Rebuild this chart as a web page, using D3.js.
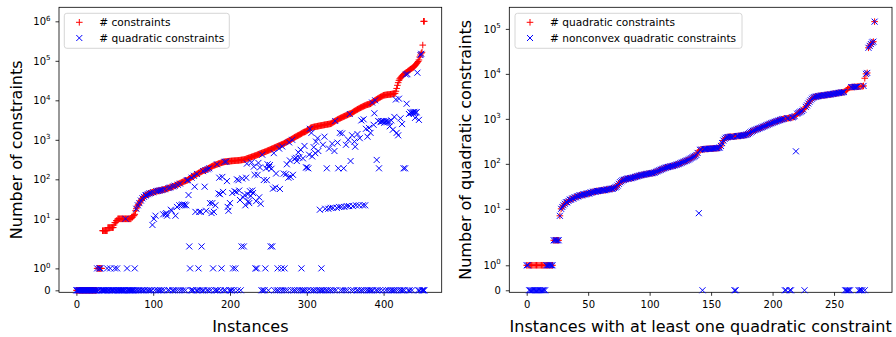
<!DOCTYPE html>
<html>
<head>
<meta charset="utf-8">
<script src="https://cdn.jsdelivr.net/npm/d3@7"></script>
<style>
  body { margin: 0; background: #fff; }
  svg text { font-family: "DejaVu Sans", sans-serif; fill: #000; }
</style>
</head>
<body>
<svg id="chart" width="896" height="337"></svg>
<script>
// # constraints per instance (sorted), left panel
const leftConstraints = [
  0,0,0,0,0,0,0,0,0,0,
  0,0,0,0,0,0,0,0,0,0,
  0,0,0,0,0,0,0,1,1,1,
  1,1,1,1,5,5,5,5,5,5,
  5,6,6,6,6,6,6,6,6,7,
  8,8,9,9,10,10,10,10,10,10,
  10,10,10,10,10,10,10,10,10,10,
  10,10,11,11,12,12,13,16,18,20,
  22,23,25,27,29,31,33,35,36,38,
  39,40,41,42,43,44,45,45,46,47,
  47,48,48,49,50,50,51,51,52,52,
  53,53,54,55,55,56,57,57,58,59,
  60,61,62,63,64,65,66,67,69,70,
  72,73,75,76,78,80,81,83,85,86,
  88,90,91,93,94,96,100,103,106,110,
  113,116,120,123,126,130,133,137,140,144,
  147,151,154,158,161,165,168,170,172,175,
  180,185,190,195,200,205,210,215,220,224,
  228,232,236,240,244,248,252,256,260,264,
  268,272,275,278,280,281,283,285,286,288,
  289,290,292,293,294,295,296,297,298,299,
  300,301,303,305,307,309,311,313,315,317,
  320,330,335,340,345,350,356,362,368,374,
  380,386,392,398,405,412,420,428,436,444,
  452,460,468,476,484,492,500,510,520,530,
  540,550,560,572,584,596,608,620,632,645,
  658,671,684,698,712,726,740,755,770,785,
  800,820,850,870,890,910,930,950,975,1000,
  1030,1060,1090,1120,1150,1180,1210,1240,1270,1300,
  1330,1360,1400,1440,1480,1520,1560,1580,1600,1650,
  1700,1750,1800,1850,1900,2000,2030,2060,2090,2110,
  2130,2150,2170,2190,2210,2230,2250,2270,2290,2310,
  2330,2350,2370,2390,2410,2430,2450,2470,2490,2510,
  2530,2550,2600,2680,2760,2840,2920,3000,3080,3160,
  3240,3320,3400,3480,3560,3640,3720,3800,3880,3960,
  4040,4120,4200,4300,4400,4500,4550,4600,4700,4850,
  5000,5150,5300,5450,5600,5750,5900,6050,6200,6350,
  6500,6650,6800,6950,7100,7250,7400,7550,7700,7800,
  7900,8000,8100,8200,8500,8800,9100,9400,9700,10000,
  10300,10600,10900,11200,11500,11800,12100,12400,12700,13000,
  13400,13500,13600,13700,13800,13900,14000,14000,14100,14200,
  14300,14400,14500,14600,14800,15000,17000,20000,24000,28000,
  32000,35000,37000,39000,41000,43000,45000,47000,48000,50000,
  51000,53000,55000,57000,59000,61000,63000,65000,67000,69000,
  72000,76000,80000,85000,90000,96000,105000,125000,140000,156000,
  165000,250000,1000000,1000000
];

// # quadratic constraints per instance, left panel
const leftQuadratic = [
  0,0,0,0,0,0,0,0,0,0,
  0,0,0,0,0,0,0,0,0,0,
  0,0,0,0,0,0,0,1,0,0,
  1,1,0,0,0,0,0,0,0,0,
  1,0,0,0,1,0,0,0,0,0,
  1,0,0,1,0,0,0,0,0,0,
  0,0,0,0,10,0,1,0,0,0,
  0,0,0,0,0,0,1,0,18,0,
  22,0,25,0,29,0,33,0,36,0,
  39,40,0,42,0,44,0,45,0,7,
  47,10,0,12,50,0,51,0,52,0,
  53,0,54,13,0,56,13,14,12,0,
  60,0,62,17,16,0,66,0,69,12,
  0,20,73,0,22,78,0,22,23,0,
  22,23,0,22,94,96,40,2,1,0,
  110,0,0,123,65,15,0,137,0,1,
  15,0,15,2,0,161,0,65,172,16,
  0,180,0,190,25,0,14,25,1,15,
  0,22,0,240,0,44,110,42,0,1,
  115,48,0,278,0,281,90,20,16,0,
  25,0,0,45,1,0,50,1,48,100,
  0,95,52,30,0,2,105,35,2,40,
  22,110,250,42,28,25,50,38,270,52,
  45,210,130,1,28,1,130,260,35,200,
  24,0,420,0,96,0,1,190,95,240,
  0,205,230,2,185,2,58,460,0,62,
  140,0,1,0,600,57,0,1,680,0,
  140,1,0,135,240,0,110,860,300,115,
  0,1000,130,0,330,0,350,290,0,480,
  360,0,560,1,0,340,0,700,0,200,
  200,0,190,420,1900,0,1500,380,0,650,
  0,460,900,0,1100,520,0,17,0,1,
  0,750,0,1200,18,0,190,0,18,600,
  0,19,0,800,19,0,520,3000,0,19,
  850,190,20,1500,0,20,1450,0,190,20,
  0,750,21,0,1000,21,4500,290,0,1300,
  21,0,900,670,22,0,1400,0,22,1100,
  0,3100,0,22,3300,0,22,1900,0,1200,
  0,2000,0,1500,0,8800,0,2400,4700,10000,
  0,310,0,3000,190,0,2800,3000,2900,0,
  3000,2700,2900,0,3000,2800,0,2900,2200,0,
  3100,0,1800,0,3800,0,10500,1500,0,1300,
  11000,0,3500,0,2500,0,190,0,190,45000,
  8200,46000,0,4500,0,5000,4800,0,5000,4700,
  5100,3600,4900,5000,50000,0,3200,0,140000,150000,
  0,0,0,0
];

// # quadratic constraints (sorted), right panel
const rightQuadratic = [
  1,1,1,1,1,1,1,1,1,1,
  1,1,1,1,1,1,1,1,1,1,
  1,1,2,2,2,2,2,7,10,11,
  12,13,14,14,15,16,16,17,17,18,
  18,19,19,20,20,20,21,21,21,22,
  22,22,23,23,24,24,24,25,25,25,
  25,26,26,26,26,27,27,27,28,28,
  28,29,30,31,33,36,39,41,43,44,
  45,46,47,47,48,48,49,50,51,52,
  53,54,55,56,57,57,58,59,60,60,
  61,62,62,63,64,66,68,70,72,74,
  76,78,80,82,84,85,86,88,89,90,
  92,94,96,98,100,103,106,109,112,115,
  118,121,125,130,135,140,145,150,158,175,
  195,205,208,210,212,213,214,215,216,217,
  218,219,220,221,222,224,226,230,250,290,
  330,360,380,390,395,398,400,402,405,408,
  410,412,415,418,420,425,430,435,440,448,
  460,480,500,520,540,555,570,585,600,615,
  630,645,660,680,700,720,740,760,780,800,
  820,840,860,880,900,920,940,960,980,1000,
  1010,1020,1030,1040,1050,1060,1080,1100,1150,1200,
  1300,1350,1400,1450,1500,1600,1700,1850,2000,2200,
  2400,2600,2800,2950,3050,3100,3150,3200,3230,3260,
  3290,3320,3350,3380,3410,3440,3470,3500,3540,3580,
  3620,3660,3700,3740,3780,3820,3860,3900,3950,4100,
  4300,4600,4900,5000,5050,5100,5100,5150,5150,5200,
  5200,5250,5300,5300,5400,8000,10000,10500,38000,42000,
  46000,50000,52000,145000
];

// # nonconvex quadratic constraints, right panel
const rightNonconvex = [
  1,1,0,0,0,0,0,0,0,0,
  0,0,0,0,0,0,1,1,1,1,
  1,1,2,2,2,2,2,7,10,11,
  12,13,14,14,15,16,16,17,17,18,
  18,19,19,20,20,20,21,21,21,22,
  22,22,23,23,24,24,24,25,25,25,
  25,26,26,26,26,27,27,27,28,28,
  28,29,30,31,33,36,39,41,43,44,
  45,46,47,47,48,48,49,50,51,52,
  53,54,55,56,57,57,58,59,60,60,
  61,62,62,63,64,66,68,70,72,74,
  76,78,80,82,84,85,86,88,89,90,
  92,94,96,98,100,103,106,109,112,115,
  118,121,125,130,135,140,145,150,158,175,
  8,205,208,0,212,213,214,215,216,217,
  218,219,220,221,222,224,226,230,250,290,
  330,360,380,390,395,398,400,402,405,0,
  0,412,415,418,420,425,430,435,440,448,
  460,480,500,520,540,555,570,585,600,615,
  630,645,660,680,700,720,740,760,780,800,
  820,840,860,880,900,920,940,960,980,1000,
  0,0,1030,1040,0,0,1080,1100,1150,190,
  1300,1350,1400,1450,1500,1600,0,1850,2000,2200,
  2400,2600,2800,2950,3050,3100,3150,3200,3230,3260,
  3290,3320,3350,3380,3410,3440,3470,3500,3540,3580,
  3620,3660,3700,3740,3780,3820,3860,3900,3950,0,
  0,0,0,0,5050,5100,5100,5150,5150,5200,
  0,0,0,0,5400,0,10000,10500,38000,42000,
  46000,50000,52000,145000
];

const yTickValues = [0, 1, 10, 100, 1000, 10000, 100000, 1000000];
const yTickExponents = [null, 0, 1, 2, 3, 4, 5, 6];
const leftXTicks = [0, 100, 200, 300, 400];
const rightXTicks = [0, 50, 100, 150, 200, 250];

// matplotlib-style symlog, linthresh=2, linscale=1
function symlog(v) {
  const L = 2, lsa = 1 / (1 - 1 / 10);
  const a = Math.abs(v);
  if (a <= L) return v * lsa;
  return Math.sign(v) * L * (lsa + Math.log10(a / L));
}

const plusPath = "M-3.3,0H3.3M0,-3.3V3.3";
const crossPath = "M-3,-3L3,3M-3,3L3,-3";

const svg = d3.select("#chart");

function drawPanel(p) {
  let g = svg.append("g");
  let n = p.red.length;
  let pad = (n - 1) * 0.05;
  let x = d3.scaleLinear().domain([-pad, n - 1 + pad]).range([p.left, p.right]);
  let y = d3.scaleLinear().domain(p.yDomain).range([p.bottom, p.top]);

  // frame
  g.append("rect")
    .attr("x", p.left).attr("y", p.top)
    .attr("width", p.right - p.left).attr("height", p.bottom - p.top)
    .attr("fill", "none").attr("stroke", "#000").attr("stroke-width", 0.8);

  // y axis, only ticks inside the visible range
  let shown = yTickValues
    .map((v, i) => ({t: symlog(v), e: yTickExponents[i]}))
    .filter(d => d.t >= p.yDomain[0] && d.t <= p.yDomain[1]);
  let ya = g.append("g")
    .attr("transform", "translate(" + p.left + ",0)")
    .call(d3.axisLeft(y)
      .tickValues(shown.map(d => d.t))
      .tickSize(3.5).tickPadding(5));
  ya.select(".domain").remove();
  ya.selectAll(".tick line").attr("stroke", "#000").attr("stroke-width", 0.8);
  ya.selectAll(".tick text").each(function(d, i) {
    let t = d3.select(this).text(null)
      .attr("font-size", 10).attr("font-family", "DejaVu Sans");
    if (shown[i].e === null) {
      t.text("0");
    } else {
      t.append("tspan").text("10");
      t.append("tspan").attr("font-size", 7).attr("dy", "-4.5").text(shown[i].e);
    }
  });

  // x axis
  let xa = g.append("g")
    .attr("transform", "translate(0," + p.bottom + ")")
    .call(d3.axisBottom(x).tickValues(p.xTicks).tickSize(3.5).tickPadding(5).tickFormat(d3.format("d")));
  xa.select(".domain").remove();
  xa.selectAll(".tick line").attr("stroke", "#000").attr("stroke-width", 0.8);
  xa.selectAll(".tick text").attr("font-size", 10).attr("font-family", "DejaVu Sans");

  // markers: red + first, blue x on top
  g.append("g").selectAll("path")
    .data(p.red)
    .join("path")
    .attr("transform", (d, i) => "translate(" + x(i) + "," + y(symlog(d)) + ")")
    .attr("d", plusPath)
    .attr("fill", "none").attr("stroke", "#ff0000").attr("stroke-width", 1);

  g.append("g").selectAll("path")
    .data(p.blue)
    .join("path")
    .attr("transform", (d, i) => "translate(" + x(i) + "," + y(symlog(d)) + ")")
    .attr("d", crossPath)
    .attr("fill", "none").attr("stroke", "#0000ff").attr("stroke-width", 1);

  // labels
  g.append("text")
    .attr("x", (p.left + p.right) / 2).attr("y", 332)
    .attr("text-anchor", "middle").attr("font-size", 16)
    .text(p.xLabel);
  g.append("text")
    .attr("transform", "translate(" + p.yLabelX + "," + ((p.top + p.bottom) / 2) + ") rotate(-90)")
    .attr("text-anchor", "middle").attr("font-size", 16)
    .text(p.yLabel);

  // legend
  let lg = g.append("g");
  lg.append("rect")
    .attr("x", p.legend.x).attr("y", 13.3)
    .attr("width", p.legend.w).attr("height", 35)
    .attr("rx", 2.5)
    .attr("fill", "#fff").attr("fill-opacity", 0.8)
    .attr("stroke", "#cccccc").attr("stroke-width", 0.8);
  let rows = [
    {label: p.names[0], d: plusPath, color: "#ff0000", y: 22.3},
    {label: p.names[1], d: crossPath, color: "#0000ff", y: 38}
  ];
  rows.forEach(r => {
    lg.append("path")
      .attr("transform", "translate(" + (p.legend.x + 15) + "," + r.y + ")")
      .attr("d", r.d).attr("fill", "none").attr("stroke", r.color).attr("stroke-width", 1);
    lg.append("text")
      .attr("x", p.legend.x + 35).attr("y", r.y + 3.8)
      .attr("font-size", 10.6)
      .text(r.label);
  });
}

drawPanel({
  left: 59, right: 441.7, top: 7.3, bottom: 292.3,
  yDomain: [-0.1, 14.33],
  red: leftConstraints, blue: leftQuadratic,
  xTicks: leftXTicks,
  xLabel: "Instances", yLabel: "Number of constraints", yLabelX: 21.7,
  names: ["# constraints", "# quadratic constraints"],
  legend: {x: 64.3, w: 165}
});

drawPanel({
  left: 509.3, right: 892, top: 7.3, bottom: 292.3,
  yDomain: [-0.09, 12.58],
  red: rightQuadratic, blue: rightNonconvex,
  xTicks: rightXTicks,
  xLabel: "Instances with at least one quadratic constraint",
  yLabel: "Number of quadratic constraints", yLabelX: 471,
  names: ["# quadratic constraints", "# nonconvex quadratic constraints"],
  legend: {x: 515, w: 227}
});
</script>
</body>
</html>
